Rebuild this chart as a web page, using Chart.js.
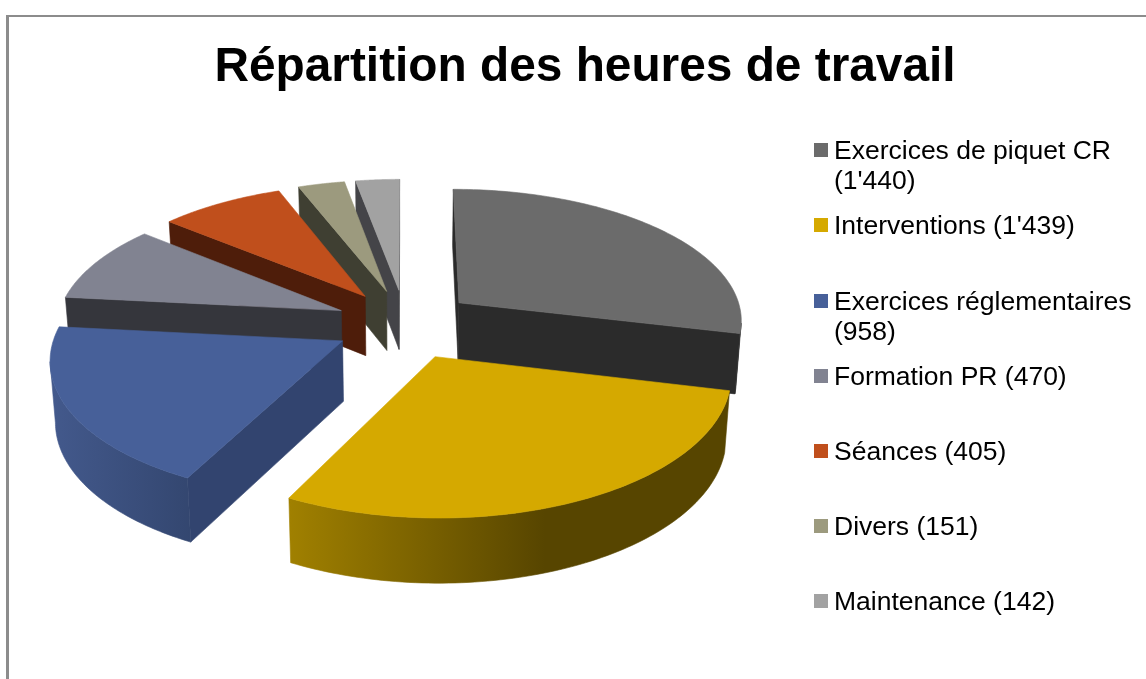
<!DOCTYPE html>
<html lang="fr"><head><meta charset="utf-8">
<style>html,body{margin:0;padding:0;background:#fff}canvas{display:block}</style>
<script src="https://cdn.jsdelivr.net/npm/chart.js@4/dist/chart.umd.min.js"></script>
</head><body><canvas id="c" width="1146" height="679"></canvas>
<script>
const chartTitle = "Répartition des heures de travail";
const categories = ["Exercices de piquet CR","Interventions","Exercices réglementaires","Formation PR","Séances","Divers","Maintenance"];
const hours = [1440,1439,958,470,405,151,142];
const legendLines = [["Exercices de piquet CR","(1'440)"],["Interventions (1'439)"],["Exercices réglementaires","(958)"],["Formation PR (470)"],["Séances (405)"],["Divers (151)"],["Maintenance (142)"]];
const topColors = ["#6b6b6b","#d5a900","#476099","#818391","#c04f1c","#9c9a7e","#a2a2a2"];
const faceColors = ["#2b2b2b","#5a4700","#32446f","#35363c","#4e1d0a","#3f3f32","#444448"];
const wallFrom = ["#2b2b2b","#a08000","#43598c","#35363c","#4e1d0a","#3f3f32","#444448"];
const wallTo = ["#2b2b2b","#574500","#33466f","#35363c","#4e1d0a","#3f3f32","#444448"];
const wallGradientX = [[700,740],[290,545],[52,195],[60,70],[170,175],[300,305],[356,360]];

const view = {cx:405, cy:324, a:0.465, dx:2400, dy:2300, R:285, explodeX:70, explodeY:75, depth:60, lean:0.00025};
function project(X,Y,z){
  const sx=view.dx/(view.dx-Y), sy=view.dy/(view.dy-Y);
  const zs=1+(sx-1)*0.5;
  return [view.cx+X*sx*(1-z*view.lean), view.cy+view.a*Y*sy+z*zs];
}
function faces(nx,ny,X,Y){return nx*(-X)+ny*(view.dx-Y)>0;}
function poly(ctx,pts,fill){ctx.beginPath();pts.forEach((p,i)=>i?ctx.lineTo(p[0],p[1]):ctx.moveTo(p[0],p[1]));ctx.closePath();ctx.fillStyle=fill;ctx.strokeStyle=fill;ctx.lineWidth=0.6;ctx.fill();ctx.stroke();}

const pie3d = {
  id:"pie3d",
  beforeDatasetsDraw(chart){
    const ctx=chart.ctx, arcs=chart.getDatasetMeta(0).data;
    const slices=arcs.map((arc,i)=>{const mid=(arc.startAngle+arc.endAngle)/2;
      return {i,s:arc.startAngle,e:arc.endAngle,ox:view.explodeX*Math.cos(mid),oy:view.explodeY*Math.sin(mid)};});
    slices.sort((p,q)=>p.oy-q.oy);
    slices.forEach(sl=>{
      const {i,s,e,ox,oy}=sl;
      const pt=a=>[ox+view.R*Math.cos(a),oy+view.R*Math.sin(a)];
      const [sx,sy]=pt(s),[ex,ey]=pt(e);
      const radial=(x,y)=>[project(ox,oy,0),project(x,y,0),project(x,y,view.depth),project(ox,oy,view.depth)];
      if(faces(Math.cos(s-Math.PI/2),Math.sin(s-Math.PI/2),ox,oy)) poly(ctx,radial(sx,sy),faceColors[i]);
      if(faces(Math.cos(e+Math.PI/2),Math.sin(e+Math.PI/2),ox,oy)) poly(ctx,radial(ex,ey),faceColors[i]);
      const n=90, up=[], low=[];
      for(let k=0;k<=n;k++){const a=s+(e-s)*k/n,[x,y]=pt(a);
        if(faces(Math.cos(a),Math.sin(a),x,y)){up.push(project(x,y,0));low.push(project(x,y,view.depth));}}
      if(up.length>1){
        const g=ctx.createLinearGradient(wallGradientX[i][0],0,wallGradientX[i][1],0);
        g.addColorStop(0,wallFrom[i]);g.addColorStop(1,wallTo[i]);
        poly(ctx,up.concat(low.reverse()),g);
      }
      const top=[project(ox,oy,0)];
      for(let k=0;k<=n;k++){const [x,y]=pt(s+(e-s)*k/n);top.push(project(x,y,0));}
      poly(ctx,top,topColors[i]);
    });
    return false;
  },
  afterDraw(chart){
    const ctx=chart.ctx;
    ctx.save();
    ctx.fillStyle="#8c8c8c";
    ctx.fillRect(6,15,1140,2);
    ctx.fillRect(6,15,3,664);
    ctx.fillStyle="#000";ctx.textBaseline="alphabetic";
    ctx.font='bold 47.8px "Liberation Sans"';ctx.textAlign="center";
    ctx.fillText(chartTitle,585,81);
    ctx.textAlign="left";ctx.font='26.5px "Liberation Sans"';
    const rows=[150,225,301,376,451,526,601];
    legendLines.forEach((lines,i)=>{
      ctx.fillStyle=topColors[i];ctx.fillRect(814,rows[i]-7,14,14);
      ctx.fillStyle="#000";
      lines.forEach((t,j)=>ctx.fillText(t,834,rows[i]+9+j*30));
    });
    ctx.restore();
  }
};

new Chart(document.getElementById("c"),{
  type:"pie",
  data:{labels:categories,datasets:[{data:hours,backgroundColor:topColors,borderWidth:0}]},
  options:{responsive:false,animation:false,events:[],
    plugins:{legend:{display:false},title:{display:false},tooltip:{enabled:false}}},
  plugins:[pie3d]
});
</script></body></html>
